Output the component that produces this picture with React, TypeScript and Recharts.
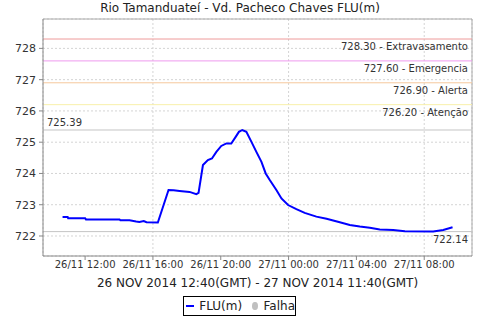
import React from "react";
import {
  CartesianGrid,
  Line,
  LineChart,
  ReferenceLine,
  XAxis,
  YAxis,
} from "recharts";

// hours since 26/11 00:00 (local time), FLU level in metres
const hours = [
  10.67, 10.97, 11.0, 12.0, 12.05, 14.03, 14.08, 14.62, 15.01, 15.2, 15.46,
  15.62, 16.29, 16.92, 17.22, 17.57, 18.16, 18.56, 18.69, 18.95, 19.24, 19.48,
  19.74, 20.03, 20.33, 20.62, 20.88, 21.07, 21.27, 21.51, 21.81, 22.1, 22.4,
  22.65, 22.89, 23.28, 23.58, 23.97, 24.46, 24.95, 25.64, 26.24, 27.02, 27.61,
  28.2, 28.79, 29.38, 30.17, 30.86, 32.53, 33.12, 33.67,
];
const flu = [
  722.61, 722.61, 722.57, 722.57, 722.53, 722.53, 722.5, 722.5, 722.46, 722.45,
  722.48, 722.44, 722.43, 723.47, 723.46, 723.44, 723.41, 723.34, 723.38,
  724.27, 724.43, 724.48, 724.69, 724.88, 724.96, 724.96, 725.17, 725.33,
  725.39, 725.33, 725.01, 724.69, 724.37, 724.0, 723.79, 723.47, 723.2, 722.99,
  722.86, 722.74, 722.62, 722.55, 722.44, 722.35, 722.3, 722.26, 722.21,
  722.19, 722.15, 722.14, 722.19, 722.28,
];

const tickHours = [12, 16, 20, 24, 28, 32];
const tickLabels = [
  "26/11 12:00",
  "26/11 16:00",
  "26/11 20:00",
  "27/11 00:00",
  "27/11 04:00",
  "27/11 08:00",
];
const yTicks = [722, 723, 724, 725, 726, 727, 728];

const levels = [728.3, 727.6, 726.9, 726.2];
const levelNames = ["Extravasamento", "Emergencia", "Alerta", "Atenção"];
const levelColors = ["#ee9a9a", "#ee99ee", "#f5c89c", "#f8f0aa"];

const maxValue = 725.39;
const minValue = 722.14;

const xDomain = [9.517, 34.817];
const yDomain = [721.36, 728.94];

const data = hours.map((h, i) => ({ h, flu: flu[i] }));

const font = "'DejaVu Sans', sans-serif";

export default function App() {
  return (
    <div style={{ position: "absolute", left: 0, top: 0, width: 480, height: 320, background: "#fff", fontFamily: font }}>
      <div
        style={{
          position: "absolute",
          top: 0,
          left: 0,
          width: 480,
          textAlign: "center",
          fontSize: 12,
          lineHeight: "17px",
          color: "#222",
        }}
      >
        Rio Tamanduateí - Vd. Pacheco Chaves FLU(m)
      </div>
      <LineChart
        width={480}
        height={320}
        data={data}
        margin={{ top: 19, right: 8, left: 0, bottom: 24 }}
      >
        <CartesianGrid stroke="#d4d4d4" strokeDasharray="2 2" />
        <XAxis
          dataKey="h"
          type="number"
          domain={xDomain}
          allowDataOverflow
          ticks={tickHours}
          tickFormatter={(v: number) => tickLabels[tickHours.indexOf(v)]}
          height={40}
          stroke="#888"
          tickSize={4}
          tickMargin={1}
          tick={{ fill: "#333", fontSize: 10, fontFamily: font }}
          label={{
            value: "26 NOV 2014 12:40(GMT) - 27 NOV 2014 11:40(GMT)",
            position: "insideBottom",
            offset: 9,
            fill: "#222",
            fontSize: 12,
            fontFamily: font,
          }}
        />
        <YAxis
          type="number"
          domain={yDomain}
          allowDataOverflow
          ticks={yTicks}
          width={43}
          stroke="#888"
          tickSize={4}
          tickMargin={3}
          tick={{ fill: "#333", fontSize: 11, fontFamily: font }}
        />
        <ReferenceLine y={yDomain[1]} stroke="#aaa" />
        <ReferenceLine x={xDomain[1]} stroke="#aaa" />
        {levels.map((lv, i) => (
          <ReferenceLine
            key={lv}
            y={lv}
            stroke={levelColors[i]}
            strokeWidth={1}
            label={{
              value: `${lv.toFixed(2)} - ${levelNames[i]}`,
              position: "insideTopRight",
              offset: 4,
              fill: "#333",
              fontSize: 10,
              fontFamily: font,
            }}
          />
        ))}
        <ReferenceLine
          y={maxValue}
          stroke="#c4c4c4"
          strokeWidth={1}
          label={{
            value: maxValue.toFixed(2),
            position: "insideBottomLeft",
            offset: 4,
            fill: "#333",
            fontSize: 10,
            fontFamily: font,
          }}
        />
        <ReferenceLine
          y={minValue}
          stroke="#c4c4c4"
          strokeWidth={1}
          label={{
            value: minValue.toFixed(2),
            position: "insideTopRight",
            offset: 4,
            fill: "#333",
            fontSize: 10,
            fontFamily: font,
          }}
        />
        <Line
          type="linear"
          dataKey="flu"
          stroke="#0000ff"
          strokeWidth={2}
          dot={false}
          isAnimationActive={false}
        />
      </LineChart>
      <div
        style={{
          position: "absolute",
          left: 183,
          top: 296,
          width: 113,
          height: 20,
          border: "1px solid #000",
          display: "flex",
          alignItems: "center",
          paddingLeft: 2,
          fontSize: 12,
          color: "#222",
          boxSizing: "border-box",
        }}
      >
        <span style={{ display: "inline-block", width: 12, height: 2, background: "#0000ff", marginRight: 5 }} />
        <span>FLU(m)</span>
        <span
          style={{
            display: "inline-block",
            width: 8,
            height: 8,
            borderRadius: "50%",
            background: "#c0c0c0",
            marginLeft: 10,
            marginRight: 6,
          }}
        />
        <span>Falha</span>
      </div>
    </div>
  );
}
